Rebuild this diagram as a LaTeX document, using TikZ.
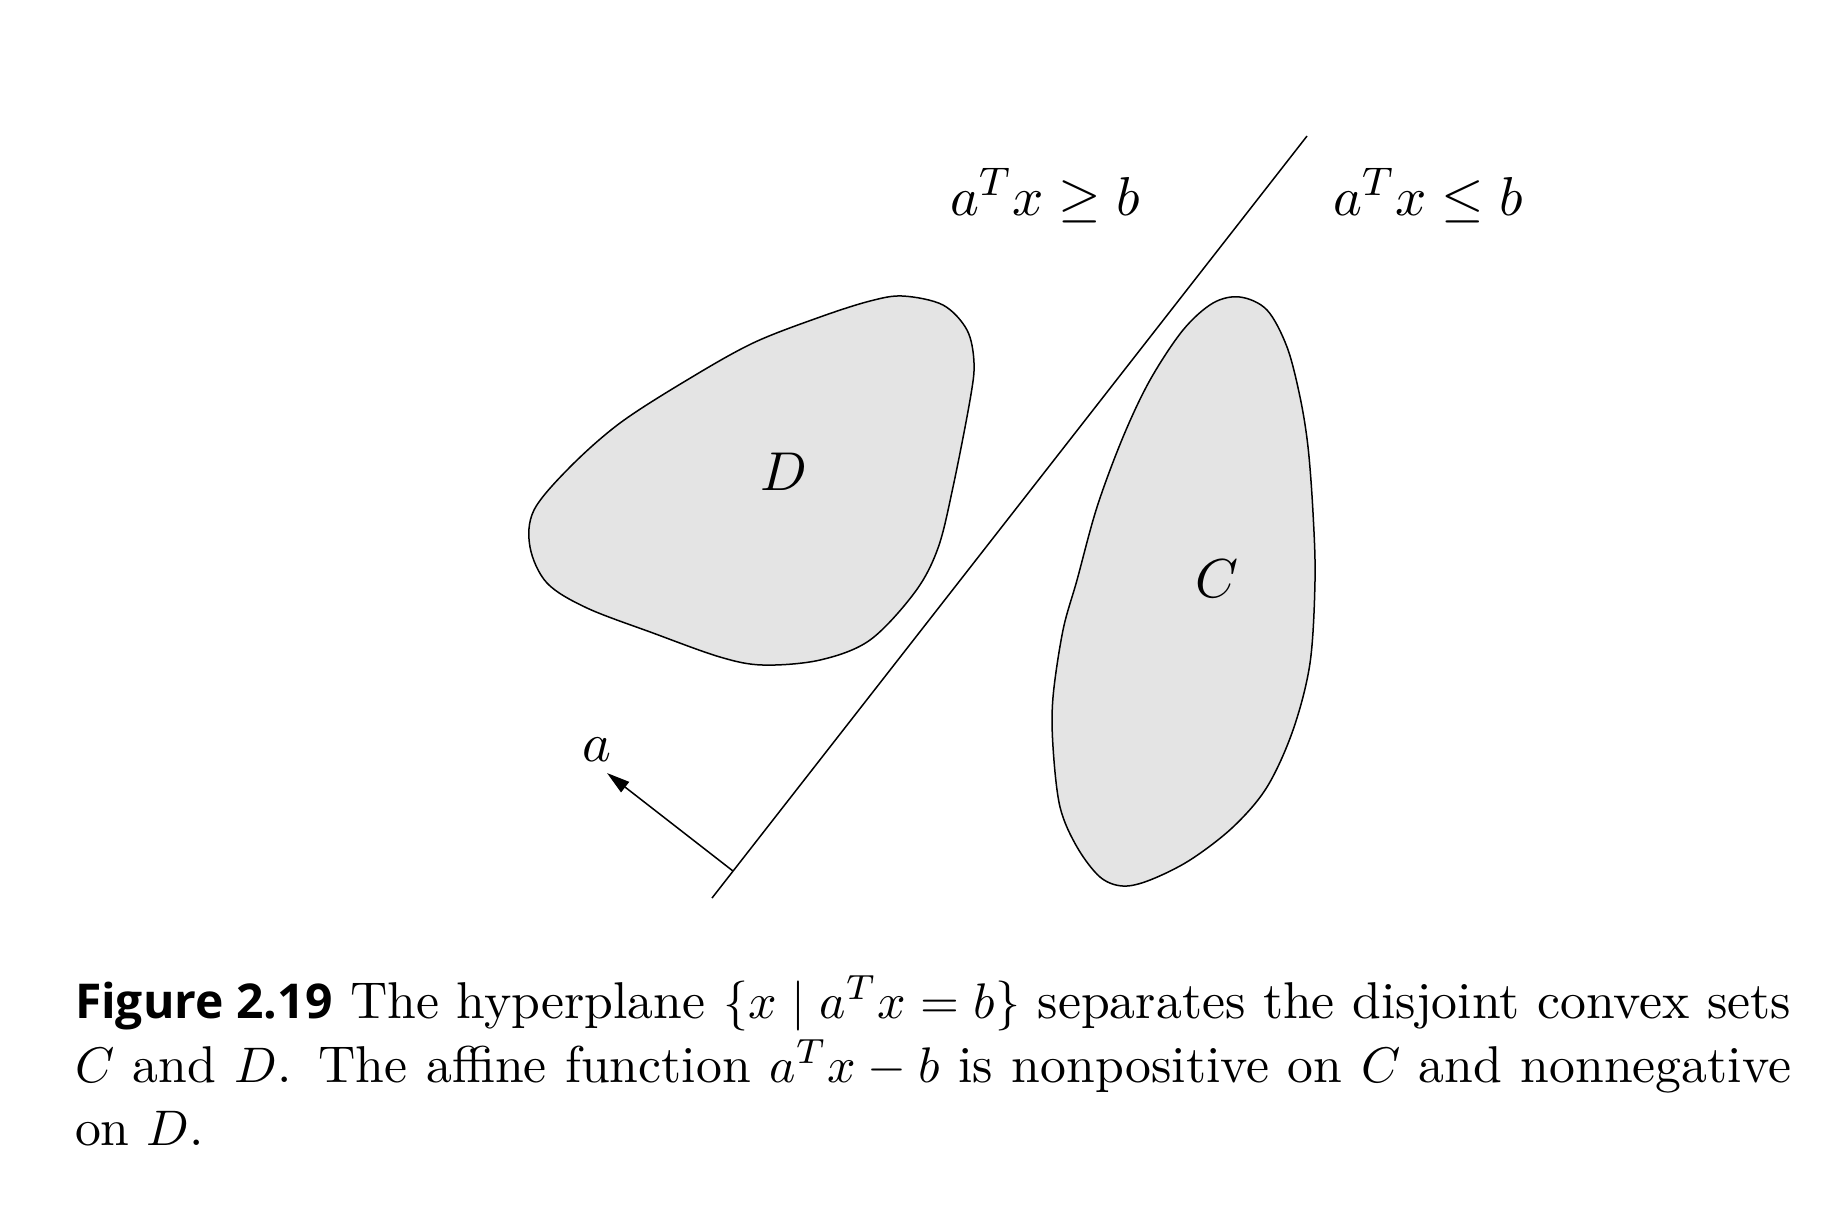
\documentclass[tikz,border=0pt]{standalone}
\usepackage{fontspec}
\newfontfamily\capsans{Open Sans}
\usetikzlibrary{arrows.meta}
\definecolor{setfill}{RGB}{228,228,228}
\begin{document}
\begin{tikzpicture}[x=0.2pt,y=-0.2pt,
  setshape/.style={draw=black,line width=0.3pt,fill=setfill},
  thinline/.style={draw=black,line width=0.3pt},
  lbl/.style={inner sep=0pt,font=\fontsize{11}{13}\selectfont},
  capline/.style={inner sep=0pt,anchor=base west,font=\fontsize{10.35}{12.4}\selectfont}]
\useasboundingbox (0,0) rectangle (1847,1218);
% set D
\draw[setshape] plot[smooth cycle,tension=0.55] coordinates {
 (903,296) (943,305) (967,330) (974,363) (970,400) (953,487) (938,548)
 (915,592) (870,640) (820,660) (763,665) (720,657) (653,633) (587,608)
 (547,583) (530,547) (534,510) (570,467) (620,423) (687,380) (753,343)
 (820,317) (870,301)};
% set C
\draw[setshape] plot[smooth cycle,tension=0.55] coordinates {
 (1240,297) (1267,310) (1287,347) (1300,397) (1308,447) (1313,513) (1315,580)
 (1310,663) (1293,730) (1267,787) (1233,827) (1190,860) (1150,880) (1123,886)
 (1100,877) (1077,847) (1060,807) (1053,747) (1053,697) (1063,630) (1077,580)
 (1097,507) (1123,437) (1150,380) (1183,330) (1213,303)};
\node[lbl] (Dl) at (784,472) {$D$};
\node[lbl] (Cl) at (1217,579) {$C$};
% hyperplane
\coordinate (h1) at (712,898);
\coordinate (h2) at (1307,136);
\coordinate (foot) at (733,871);
\coordinate (tip) at (607,773);
\draw[thinline] (h1) -- (h2);
\draw[thinline,-{Triangle[length=4.6pt,width=2.6pt]}] (foot) -- (tip);
\node[lbl] (al) at (597,750) {$a$};
\node[lbl,anchor=base] (ge) at (1045,215) {$a^Tx\geq b$};
\node[lbl,anchor=base] (le) at (1428,215) {$a^Tx\leq b$};
% caption
\node[capline] (c1) at (74,1018) {\makebox[343.2pt][s]{{\capsans\bfseries\fontsize{9.6}{12}\selectfont Figure 2.19} The hyperplane $\{x\mid a^Tx=b\}$ separates the disjoint convex sets}};
\node[capline] (c2) at (74,1082) {\makebox[343.2pt][s]{$C$ and $D$. The affine function $a^Tx-b$ is nonpositive on $C$ and nonnegative}};
\node[capline] (c3) at (74,1145) {on $D$.};
\end{tikzpicture}
\end{document}
